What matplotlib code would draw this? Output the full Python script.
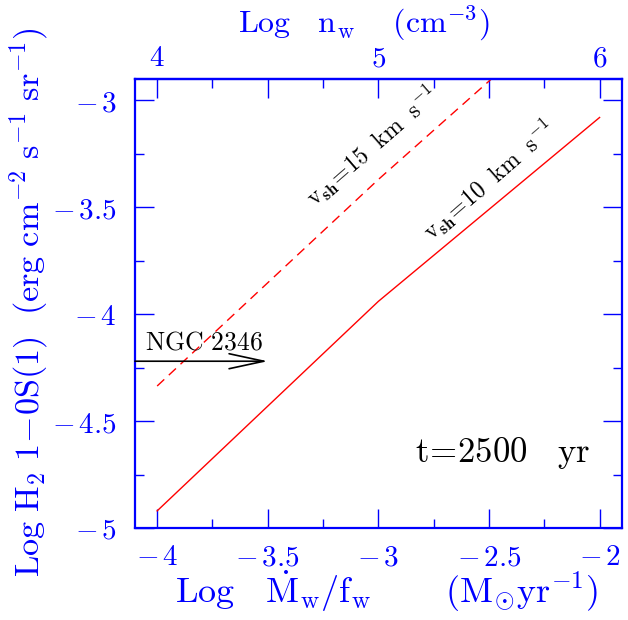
import matplotlib
matplotlib.use("Agg")
import matplotlib.pyplot as plt

plt.rcParams['mathtext.fontset'] = 'cm'

# Data
mdot = [-4.0, -3.0, -2.0]
h2_v10 = [-4.92, -3.94, -3.08]
h2_v15 = [-4.336, -3.37, -2.45]

xticks = [-4.0, -3.5, -3.0, -2.5, -2.0]
xtick_labels = [r'$-\,4$', r'$-\,3.5$', r'$-\,3$', r'$-\,2.5$', r'$-\,2$']
yticks = [-5.0, -4.5, -4.0, -3.5, -3.0]
ytick_labels = [r'$-\,5$', r'$-\,4.5$', r'$-\,4$', r'$-\,3.5$', r'$-\,3$']
top_ticks = [4, 4.5, 5, 5.5, 6]
top_tick_labels = [r'$4$', '', r'$5$', '', r'$6$']

ngc_y = -4.22
BLUE = '#0000ff'

fig = plt.figure(figsize=(6.28, 6.20), dpi=100)
ax = fig.add_axes([0.215, 0.1484, 0.775, 0.7242])

ax.plot(mdot, h2_v10, color='red', lw=1.0)
ax.plot(mdot, h2_v15, color='red', lw=1.0, dashes=(7, 4.5))

ax.set_xlim(-4.1, -1.9)
ax.set_ylim(-5.0, -2.9)

ax.set_xticks(xticks)
ax.set_xticklabels(xtick_labels)
ax.set_xticks([-3.75, -3.25, -2.75, -2.25], minor=True)
ax.set_yticks(yticks)
ax.set_yticklabels(ytick_labels)
ax.set_yticks([-4.75, -4.25, -3.75, -3.25], minor=True)

ax.tick_params(which='both', direction='in', color=BLUE, labelcolor=BLUE,
               right=True, top=False, width=1.0)
ax.tick_params(which='major', length=13.5, labelsize=21)
ax.tick_params(which='minor', length=6.5)
ax.tick_params(axis='x', which='major', pad=11)
ax.tick_params(axis='y', which='major', pad=13)
for sp in ax.spines.values():
    sp.set_color(BLUE)
    sp.set_linewidth(1.6)

sec = ax.secondary_xaxis('top', functions=(lambda x: x + 8, lambda x: x - 8))
sec.set_xticks(top_ticks)
sec.set_xticklabels(top_tick_labels)
sec.set_xticks([4.25, 4.75, 5.25, 5.75], minor=True)
sec.tick_params(which='both', direction='in', color=BLUE, labelcolor=BLUE, width=1.0)
sec.tick_params(which='major', length=13.5, labelsize=21, pad=5)
sec.tick_params(which='minor', length=6.5)
sec.spines['top'].set_color(BLUE)
sec.spines['top'].set_linewidth(1.6)

fig.text(364 / 628, (620 - 32) / 620, r'$\mathrm{Log\ \ \ n_{w}\ \ \ \ (cm^{-3})}$',
         color=BLUE, fontsize=23, ha='center', va='baseline')
fig.text(387 / 628, (620 - 603) / 620,
         r'$\mathrm{Log}\ \ \ \dot{\mathrm{M}}_{\mathrm{w}}/\mathrm{f}_{\mathrm{w}}'
         r'\ \ \ \ \ \ \ (\mathrm{M}_{\odot}\mathrm{yr}^{-1})$',
         color=BLUE, fontsize=26, ha='center', va='baseline')
ax.set_ylabel(r'$\mathrm{Log\ H_{2}\ 1\!-\!0S(1)\ \ (erg\ cm^{-2}\ s^{-1}\ sr^{-1})}$',
              color=BLUE, fontsize=24.6)
ax.yaxis.set_label_coords(-0.1735, 0.502)

# annotations
ax.annotate('', xy=(-3.5, ngc_y), xytext=(-4.1, ngc_y),
            arrowprops=dict(arrowstyle='->,head_length=1.25,head_width=0.27',
                            mutation_scale=20, lw=1.2, color='black',
                            shrinkA=0, shrinkB=0))
ax.text(-4.055, -4.165, r'$\mathrm{NGC\ 2346}$', fontsize=18.5, color='black',
        ha='left', va='baseline')
ax.text(-2.44, -4.65, r'$\mathrm{t\!=\!2500\ \ \ yr}$', fontsize=25, color='black',
        ha='center', va='center')
ax.text(-2.50, -3.375, r'$\mathrm{v_{\mathbf{sh}}\!=\!10\ \ km\ \ s^{-1}}$', fontsize=17,
        color='black', rotation=41, ha='center', va='center', rotation_mode='anchor')
ax.text(-3.03, -3.215, r'$\mathrm{v_{\mathbf{sh}}\!=\!15\ \ km\ \ s^{-1}}$', fontsize=17,
        color='black', rotation=41, ha='center', va='center', rotation_mode='anchor')

fig.savefig('out.png', dpi=100)
